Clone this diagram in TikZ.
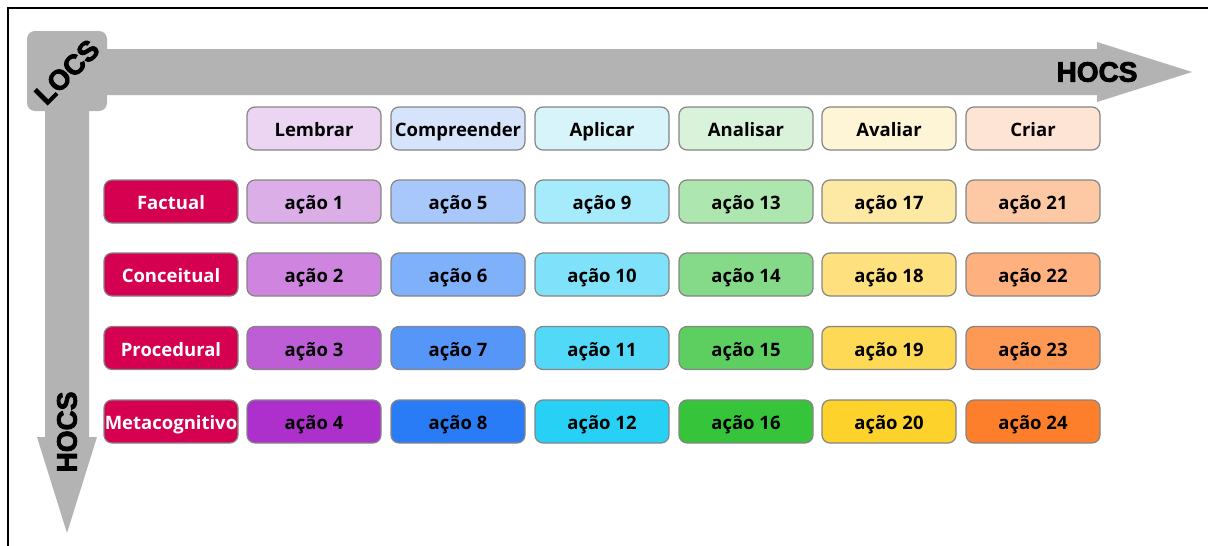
\documentclass[tikz,border=0pt]{standalone}
\usepackage{fontspec}
\setmainfont{Open Sans}
\newfontfamily\heavy[BoldFeatures={FakeBold=3}]{Liberation Sans}
\definecolor{arrowgray}{HTML}{B3B3B3}
\definecolor{boxline}{HTML}{858585}
\definecolor{crimson}{HTML}{D5004F}
% header
\definecolor{h1}{HTML}{EBD5F3}\definecolor{h2}{HTML}{D6E4FB}\definecolor{h3}{HTML}{D7F4FB}
\definecolor{h4}{HTML}{D9F2DA}\definecolor{h5}{HTML}{FEF5D6}\definecolor{h6}{HTML}{FEE4D4}
% row 1
\definecolor{a1}{HTML}{DCAEE8}\definecolor{b1}{HTML}{A8C8FB}\definecolor{c1}{HTML}{A6EBFB}
\definecolor{d1}{HTML}{AEE6B0}\definecolor{e1}{HTML}{FDE9A4}\definecolor{f1}{HTML}{FDC8A4}
% row 2
\definecolor{a2}{HTML}{CF85E0}\definecolor{b2}{HTML}{7FB0FA}\definecolor{c2}{HTML}{7FE2FA}
\definecolor{d2}{HTML}{84DA88}\definecolor{e2}{HTML}{FEE17E}\definecolor{f2}{HTML}{FEB07E}
% row 3
\definecolor{a3}{HTML}{BD5ED6}\definecolor{b3}{HTML}{5596F8}\definecolor{c3}{HTML}{52D9F8}
\definecolor{d3}{HTML}{5DCF61}\definecolor{e3}{HTML}{FED955}\definecolor{f3}{HTML}{FE9855}
% row 4
\definecolor{a4}{HTML}{AD30CC}\definecolor{b4}{HTML}{2A7CF6}\definecolor{c4}{HTML}{27D1F6}
\definecolor{d4}{HTML}{35C43A}\definecolor{e4}{HTML}{FDD22B}\definecolor{f4}{HTML}{FE7F2B}
\begin{document}
\begin{tikzpicture}[x=1pt,y=-1pt,
  cell/.style={draw=boxline,line width=1.2pt,rounded corners=8pt,minimum width=134pt,
    minimum height=43pt,inner sep=0pt,text height=16pt,text depth=0pt,
    font=\fontsize{18.5}{20}\selectfont\bfseries,text=black},
  rowlabel/.style={cell,fill=crimson,text=white},
  axislabel/.style={font=\heavy\bfseries\fontsize{28}{30}\selectfont,text=black,inner sep=0pt}]
\useasboundingbox (0,0) rectangle (1208,546);
% frame lines
\draw[line width=1.6pt] (8,546) -- (8,8) -- (1208,8);
% arrows
\fill[arrowgray,rounded corners=8pt] (27,31) rectangle (107,111);
\fill[arrowgray] (100,49) -- (1097,49) -- (1097,42) -- (1192,72) -- (1097,102) -- (1097,95) -- (100,95) -- cycle;
\fill[arrowgray] (45,100) -- (45,437) -- (37,437) -- (67,533) -- (97,437) -- (89,437) -- (89,100) -- cycle;
\node[axislabel,rotate=45] (locs) at (67,72) {LOCS};
\node[axislabel] (hocsh) at (1097,72) {HOCS};
\node[axislabel,rotate=90] (hocsv) at (67,432) {HOCS};
% header
\foreach \t/\c/\x [count=\i] in {Lembrar/h1/314,Compreender/h2/458,Aplicar/h3/602,Analisar/h4/746,Avaliar/h5/889,Criar/h6/1033}
  \node[cell,fill=\c] (head\i) at (\x,128.5) {\t};
% row labels
\node[rowlabel] (r1) at (171,201.5) {Factual};
\node[rowlabel] (r2) at (171,274.5) {Conceitual};
\node[rowlabel] (r3) at (171,348) {Procedural};
\node[rowlabel] (r4) at (171,421.5) {Metacognitivo};
% cells
\foreach \r/\y in {1/201.5,2/274.5,3/348,4/421.5}{
  \foreach \c/\x [count=\k] in {a/314,b/458,c/602,d/746,e/889,f/1033}{
    \pgfmathtruncatemacro{\n}{(\k-1)*4+\r}
    \node[cell,fill=\c\r] (cell\r\c) at (\x,\y) {ação \n};
  }
}
\end{tikzpicture}
\end{document}
